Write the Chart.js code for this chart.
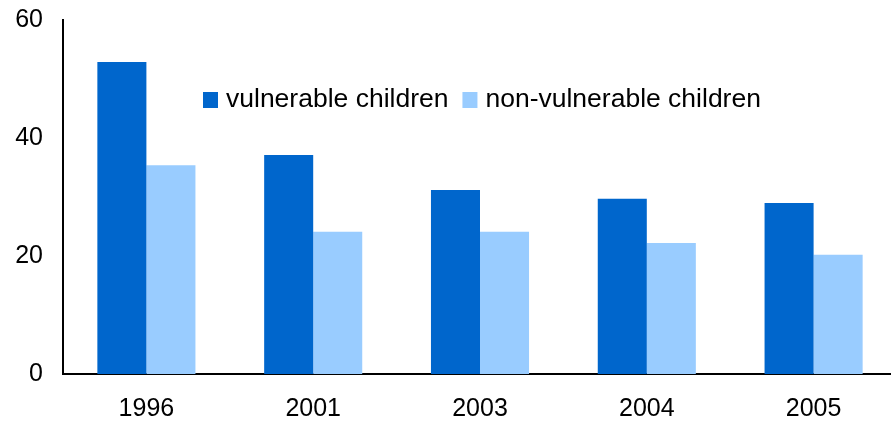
<!DOCTYPE html>
<html>
<head>
<meta charset="utf-8">
<script src="https://cdn.jsdelivr.net/npm/chart.js@4"></script>
<style>
  html, body { margin: 0; padding: 0; background: #fff; overflow: hidden; }
  #wrap { width: 900px; height: 426px; }
</style>
</head>
<body>
<div id="wrap"><canvas id="myChart"></canvas></div>
<script>
// data block
const years = ["1996", "2001", "2003", "2004", "2005"];
const vulnerable = [52.9, 37.1, 31.2, 29.7, 29.0];
const nonVulnerable = [35.4, 24.1, 24.1, 22.2, 20.2];
const yTicks = [0, 20, 40, 60];

const FONT = "'Liberation Sans', Arial, sans-serif";

// legend drawn inside the plot area
const innerLegend = {
  id: "innerLegend",
  afterDraw(chart) {
    const ctx = chart.ctx;
    const area = chart.chartArea;
    let x = area.left + 140;
    const y = area.top + 80;
    ctx.save();
    ctx.font = "26.5px " + FONT;
    ctx.textBaseline = "middle";
    chart.data.datasets.forEach((ds) => {
      ctx.fillStyle = ds.backgroundColor;
      ctx.fillRect(x, y - 8, 15, 16);
      x += 23;
      ctx.fillStyle = "#000";
      ctx.fillText(ds.label, x, y);
      x += ctx.measureText(ds.label).width + 14;
    });
    ctx.restore();
  },
};

const data = {
  labels: years,
  datasets: [
    {
      label: "vulnerable children",
      data: vulnerable,
      backgroundColor: "#0066CC",
    },
    {
      label: "non-vulnerable children",
      data: nonVulnerable,
      backgroundColor: "#99CCFF",
    },
  ],
};

const config = {
  type: "bar",
  data: data,
  options: {
    responsive: true,
    maintainAspectRatio: false,
    animation: false,
    layout: { padding: { top: 20, right: 3, left: 0, bottom: 0 } },
    datasets: {
      bar: { categoryPercentage: 0.588, barPercentage: 1.0 },
    },
    plugins: {
      legend: { display: false },
      tooltip: { enabled: false },
    },
    scales: {
      x: {
        grid: { display: false },
        border: { display: true, color: "#000", width: 2 },
        ticks: { color: "#000", font: { family: FONT, size: 25 }, padding: 12 },
        afterFit(scale) {
          scale.height = 52;
          scale.paddingLeft = 0;
          scale.paddingRight = 0;
        },
      },
      y: {
        min: 0,
        max: 60,
        grid: { display: false },
        border: { display: true, color: "#000", width: 2 },
        afterBuildTicks(scale) {
          scale.ticks = yTicks.map((v) => ({ value: v }));
        },
        ticks: { color: "#000", font: { family: FONT, size: 25 }, padding: 12 },
        afterFit(scale) {
          scale.width = 63;
          scale.paddingTop = 0;
          scale.paddingBottom = 0;
        },
      },
    },
  },
  plugins: [innerLegend],
};

const myChart = new Chart(document.getElementById("myChart"), config);
</script>
</body>
</html>
